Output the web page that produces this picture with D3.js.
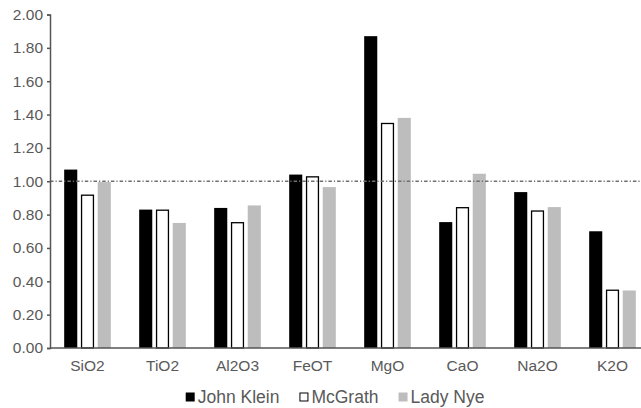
<!DOCTYPE html>
<html>
<head>
<meta charset="utf-8">
<script src="https://cdn.jsdelivr.net/npm/d3@7"></script>
<style>
  html, body { margin: 0; padding: 0; background: #fff; }
  svg { display: block; }
  text { font-family: "Liberation Sans", Arial, Helvetica, sans-serif; }
</style>
</head>
<body>
<svg id="chart" width="641" height="408"></svg>
<script>
const categories = ["SiO2", "TiO2", "Al2O3", "FeOT", "MgO", "CaO", "Na2O", "K2O"];
const seriesNames = ["John Klein", "McGrath", "Lady Nye"];
const johnKlein = [1.07, 0.83, 0.84, 1.04, 1.87, 0.755, 0.935, 0.70];
const mcGrath   = [0.92, 0.83, 0.755, 1.03, 1.35, 0.845, 0.825, 0.35];
const ladyNye   = [0.995, 0.75, 0.855, 0.965, 1.38, 1.045, 0.845, 0.345];
const yTicks = [0, 0.2, 0.4, 0.6, 0.8, 1.0, 1.2, 1.4, 1.6, 1.8, 2.0];
const referenceValue = 1.0;

(function () {
const seriesValues = [johnKlein, mcGrath, ladyNye];
const fills = ["#000000", "#ffffff", "#bdbdbd"];
const strokes = ["none", "#000000", "none"];

const svg = d3.select("#chart");
const axisColor = "#555555";
const textColor = "#595959";

const mLeft = 50, mRight = 650, mTop = 14.5, mBottom = 348;

const y = d3.scaleLinear().domain([0, 2]).range([mBottom, mTop]);
const x0 = d3.scaleBand().domain(categories).range([mLeft, mRight])
  .paddingInner(1/3).paddingOuter(1/6);
const x1 = d3.scaleBand().domain(seriesNames).range([0, x0.bandwidth()])
  .paddingInner(0.22).paddingOuter(0.1);

// bars
const rows = categories.map((c, i) => ({ cat: c, vals: seriesNames.map((s, j) => ({ s, j, v: seriesValues[j][i] })) }));
const g = svg.append("g");
const groups = g.selectAll("g.grp").data(rows).join("g")
  .attr("transform", d => `translate(${x0(d.cat)},0)`);
groups.selectAll("rect").data(d => d.vals).join("rect")
  .attr("x", d => x1(d.s) + (d.j === 1 ? 0.6 : 0))
  .attr("width", d => x1.bandwidth() - (d.j === 1 ? 1.2 : 0))
  .attr("y", d => y(d.v) + (d.j === 1 ? 0.6 : 0))
  .attr("height", d => mBottom - y(d.v) - (d.j === 1 ? 0.6 : 0))
  .attr("fill", d => fills[d.j])
  .attr("stroke", d => strokes[d.j])
  .attr("stroke-width", 1.3);

// reference line
svg.append("line")
  .attr("x1", mLeft).attr("x2", 641)
  .attr("y1", y(referenceValue)).attr("y2", y(referenceValue))
  .attr("stroke", "#707070").attr("stroke-width", 1.3)
  .attr("stroke-dasharray", "3.5,2,1.2,2");

// y axis
const yAxis = d3.axisLeft(y).tickValues(yTicks).tickFormat(d3.format(".2f"))
  .tickSize(3).tickPadding(4);
const ya = svg.append("g").attr("transform", `translate(${mLeft},0)`).call(yAxis);
ya.select(".domain").attr("stroke", axisColor).attr("stroke-width", 1.5);
ya.selectAll(".tick line").attr("stroke", axisColor).attr("stroke-width", 1.5);
ya.selectAll(".tick text").attr("fill", textColor)
  .style("font-size", "15.5px").style("font-family", "'Liberation Sans', Arial, sans-serif");

// x axis
const xAxis = d3.axisBottom(x0).tickSize(0).tickPadding(12);
const xa = svg.append("g").attr("transform", `translate(0,${mBottom})`).call(xAxis);
xa.select(".domain").attr("stroke", axisColor).attr("stroke-width", 1.5)
  .attr("d", `M${mLeft},0H641`);
xa.selectAll(".tick text").attr("fill", textColor)
  .style("font-size", "15.5px").style("font-family", "'Liberation Sans', Arial, sans-serif");

// legend
const legend = svg.append("g");
let lx = 185.7;
seriesNames.forEach((name, j) => {
  legend.append("rect")
    .attr("x", lx + (j === 1 ? 0.5 : 0)).attr("y", 392.5 + (j === 1 ? 0.5 : 0))
    .attr("width", 9 - (j === 1 ? 1 : 0)).attr("height", 9 - (j === 1 ? 1 : 0))
    .attr("fill", fills[j]).attr("stroke", strokes[j]).attr("stroke-width", 1);
  const t = legend.append("text")
    .attr("x", lx + 12).attr("y", 402.5)
    .attr("fill", textColor)
    .style("font-size", "17.5px")
    .text(name);
  const w = t.node().getComputedTextLength();
  lx = lx + 12 + w + 20;
});
})();
</script>
</body>
</html>
